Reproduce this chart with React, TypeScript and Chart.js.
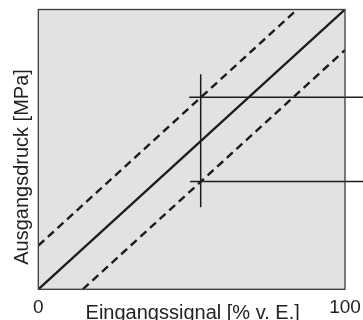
import React, { useEffect, useRef } from "react";
import { Chart, registerables } from "chart.js";

Chart.register(...registerables);

const xTickValues = [0, 100];
const xTitle = "Eingangssignal [% v. E.]";
const yTitle = "Ausgangsdruck [MPa]";

const idealX = [0, 100];
const idealY = [0, 100];
const upperX = [0, 84.4];
const upperY = [15.6, 100];
const lowerX = [14.5, 100];
const lowerY = [0, 85.5];
const markX = [52.95, 52.95];
const markY = [29.3, 76.9];
const upperLevelX = [49.2, 106];
const upperLevelY = [68.6, 68.6];
const lowerLevelX = [49.5, 106];
const lowerLevelY = [38.5, 38.5];

const pts = (xs: number[], ys: number[]) => xs.map((x, i) => ({ x, y: ys[i] }));

const FONT = "'Liberation Sans', Arial, Helvetica, sans-serif";

const framePlugin = {
  id: "frame",
  beforeDatasetsDraw(chart: any) {
    const { ctx, chartArea: a } = chart;
    ctx.save();
    ctx.fillStyle = "#e1e2e4";
    ctx.fillRect(a.left, a.top, a.right - a.left, a.bottom - a.top);
    ctx.restore();
  },
  afterDatasetsDraw(chart: any) {
    const { ctx, chartArea: a } = chart;
    ctx.save();
    ctx.strokeStyle = "#3a3a3a";
    ctx.lineWidth = 1.3;
    ctx.strokeRect(a.left, a.top, a.right - a.left, a.bottom - a.top);
    ctx.restore();
  },
  afterDraw(chart: any) {
    const { ctx, chartArea: a } = chart;
    ctx.save();
    ctx.fillStyle = "#222";
    ctx.font = `20px ${FONT}`;
    ctx.textAlign = "center";
    ctx.textBaseline = "alphabetic";
    ctx.fillText(xTitle, (a.left + a.right) / 2 + 1, 319.3);
    ctx.translate(27.5, 167);
    ctx.rotate(-Math.PI / 2);
    ctx.fillText(yTitle, 0, 0);
    ctx.restore();
  },
};

export default function App() {
  const ref = useRef<HTMLCanvasElement>(null);
  useEffect(() => {
    document.body.style.margin = "0";
    const line = (data: any, width: number, dash: number[] = [], clip: any = undefined) => ({
      data,
      borderColor: "#1c1c1c",
      borderWidth: width,
      borderDash: dash,
      pointRadius: 0,
      fill: false,
      tension: 0,
      ...(clip !== undefined ? { clip } : {}),
    });
    const chart = new Chart(ref.current!, {
      type: "line",
      data: {
        datasets: [
          line(pts(idealX, idealY), 2.4),
          line(pts(upperX, upperY), 2.4, [8, 5]),
          line(pts(lowerX, lowerY), 2.4, [8, 5]),
          line(pts(markX, markY), 1.5),
          line(pts(upperLevelX, upperLevelY), 1.5, [], false),
          line(pts(lowerLevelX, lowerLevelY), 1.5, [], false),
        ] as any,
      },
      options: {
        animation: false,
        responsive: false,
        layout: { padding: { left: 38.3, right: 18, top: 9.5, bottom: 0 } },
        plugins: { legend: { display: false }, tooltip: { enabled: false } },
        scales: {
          x: {
            type: "linear",
            min: 0,
            max: 100,
            grid: { display: false },
            border: { display: false },
            afterBuildTicks: (axis: any) => {
              axis.ticks = xTickValues.map((v) => ({ value: v }));
            },
            afterFit: (axis: any) => {
              axis.height = 30.7;
            },
            ticks: {
              autoSkip: false,
              maxRotation: 0,
              padding: -1,
              color: "#222",
              font: { size: 19, family: FONT },
              callback: (v: any) => String(v),
            },
          },
          y: {
            type: "linear",
            min: 0,
            max: 100,
            display: false,
          },
        },
      },
      plugins: [framePlugin],
    });
    return () => chart.destroy();
  }, []);
  return (
    <div style={{ position: "fixed", left: 0, top: 0, width: 363, height: 320 }}>
      <canvas ref={ref} width={363} height={320} style={{ display: "block" }} />
    </div>
  );
}
